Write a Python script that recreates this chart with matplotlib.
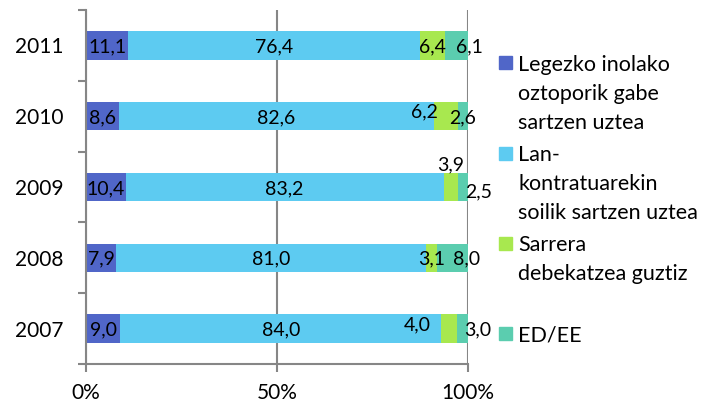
import matplotlib.pyplot as plt
from matplotlib.patches import Rectangle
import numpy as np

plt.rcParams['font.family'] = ['Lato', 'DejaVu Sans']

# Datuak (%)
years = ['2007', '2008', '2009', '2010', '2011']
legezko = [9.0, 7.9, 10.4, 8.6, 11.1]
lan_kontratu = [84.0, 81.0, 83.2, 82.6, 76.4]
sarrera_debeku = [4.0, 3.1, 3.9, 6.2, 6.4]
ed_ee = [3.0, 8.0, 2.5, 2.6, 6.1]

series = [legezko, lan_kontratu, sarrera_debeku, ed_ee]
colors = ['#5066C8', '#5DCBF1', '#A8E84F', '#5BCDAF']
legend_lines = [
    ['Legezko inolako', 'oztoporik gabe', 'sartzen uztea'],
    ['Lan-', 'kontratuarekin', 'soilik sartzen uztea'],
    ['Sarrera', 'debekatzea guztiz'],
    ['ED/EE'],
]

# Etiketen desplazamendua pixeletan (Excel-en kokapena imitatzeko)
label_shift = {
    (3, 4): (13, 0),
    (2, 3): (-22, 6),
    (2, 2): (0, 24), (3, 2): (15, -3),
    (3, 1): (14, 0),
    (2, 0): (-32, 5), (3, 0): (15, 0),
}

grey = '#868686'
W, H = 718, 405
fig = plt.figure(figsize=(W / 100, H / 100), dpi=100)
ax = fig.add_axes([86 / W, 41 / H, 382 / W, 354 / H])

y = np.arange(len(years))
left = np.zeros(len(years))
for si, vals in enumerate(series):
    vals = np.array(vals)
    ax.barh(y, vals, left=left, height=0.4, color=colors[si], zorder=2)
    for yi, v in enumerate(vals):
        dx, dy = label_shift.get((si, yi), (0, 0))
        ax.annotate(f"{v:.1f}".replace('.', ','), (left[yi] + v / 2, y[yi]),
                    xytext=(dx * 0.72, dy * 0.72), textcoords='offset points',
                    ha='center', va='center_baseline', fontsize=14, zorder=3)
    left += vals

ax.set_xlim(0, 100)
ax.set_ylim(-0.5, len(years) - 0.5)
ax.set_xticks([0, 50, 100])
ax.set_xticklabels(['0%', '50%', '100%'])
ax.set_yticks(np.arange(len(years) + 1) - 0.5)
ax.set_yticklabels([])
ax.set_yticks(y, minor=True)
ax.set_yticklabels(years, minor=True)

ax.tick_params(axis='y', which='major', length=6, width=1.5, color=grey)
ax.tick_params(axis='y', which='minor', length=0, pad=16, labelsize=15)
ax.tick_params(axis='x', length=6, width=1.5, color=grey, pad=8, labelsize=15)
ax.xaxis.grid(True, color=grey, lw=1.5, zorder=0)
ax.set_axisbelow(True)
for s in ['top', 'right']:
    ax.spines[s].set_visible(False)
for s in ['left', 'bottom']:
    ax.spines[s].set_color(grey)
    ax.spines[s].set_linewidth(1.5)

# Legenda eskuz
for ei, lines in enumerate(legend_lines):
    base = 70.7 + ei * 90.3
    fig.patches.append(Rectangle((499 / W, 1 - (base - 1.5) / H), 13 / W, 13 / H,
                                 transform=fig.transFigure, color=colors[ei]))
    for li, txt in enumerate(lines):
        fig.text(518 / W, 1 - (base + li * 29) / H, txt, ha='left',
                 va='baseline', fontsize=15.5)

fig.savefig('out.png', dpi=100)
